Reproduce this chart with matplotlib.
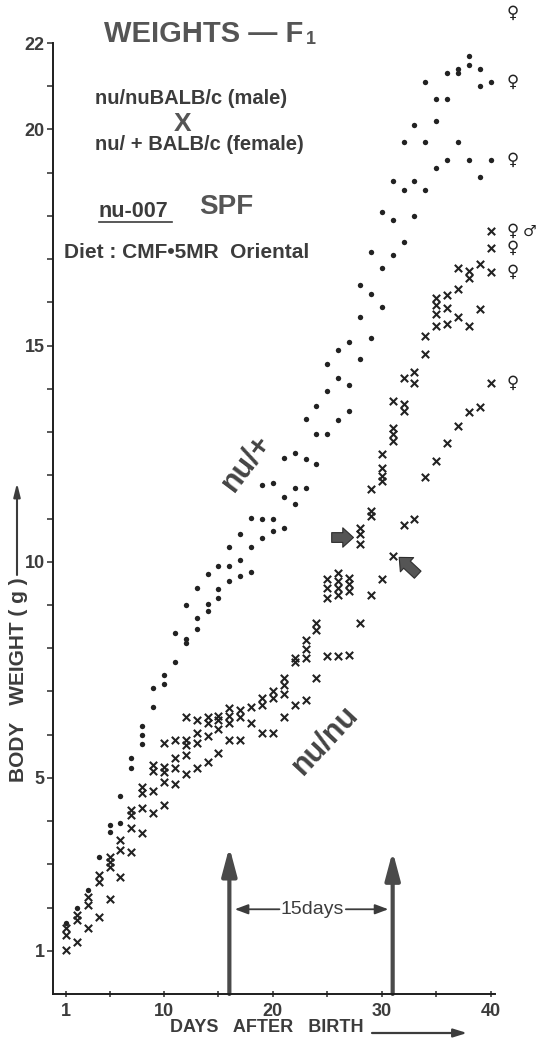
import numpy as np
import matplotlib.pyplot as plt

plt.rcParams['font.family'] = ['Liberation Sans', 'DejaVu Sans']

# Body weights (g) of each litter, one row per day after birth (day 1 .. 40)
het_weights = [
    [1.64], [2.0], [2.4], [3.17], [3.9, 3.75], [4.57, 3.95], [5.45, 5.22],
    [6.21, 6.0, 5.78], [7.09, 6.65], [7.37, 7.18], [8.34, 7.69],
    [9.0, 8.22, 8.11], [9.4, 8.7, 8.45], [9.72, 9.03, 8.87],
    [9.89, 9.36, 9.17], [10.33, 9.91, 9.56], [10.63, 10.03, 9.66],
    [11.02, 10.33, 9.77], [11.78, 11.0, 10.56], [11.83, 11.0, 10.7],
    [12.4, 11.5, 10.79], [12.52, 11.71, 11.34], [13.31, 12.38, 11.71],
    [13.6, 12.96, 12.27], [14.58, 13.95, 12.96], [14.9, 14.25, 13.28],
    [15.08, 14.09, 13.49], [16.4, 15.66, 14.69], [17.16, 16.2, 15.18],
    [18.1, 16.8, 15.9], [18.8, 17.9, 17.1], [19.7, 18.6, 17.4],
    [20.1, 18.8, 18.0], [21.1, 19.7, 18.6], [20.7, 20.2, 19.1],
    [21.3, 20.7, 19.3], [21.4, 21.3, 19.7], [21.7, 21.5, 19.3],
    [21.4, 21.0, 18.9], [22.7, 21.1, 19.3],
]
nude_weights = [
    [1.52, 1.36, 1.02], [1.82, 1.71, 1.2], [2.24, 2.06, 1.52],
    [2.75, 2.6, 1.78], [3.17, 3.05, 2.93, 2.2], [3.56, 3.33, 2.7],
    [4.25, 4.13, 3.83, 3.28], [4.78, 4.64, 4.3, 3.72],
    [5.29, 5.17, 4.69, 4.18], [5.8, 5.24, 5.13, 4.9, 4.37],
    [5.87, 5.47, 5.22, 4.85], [6.4, 5.87, 5.75, 5.52, 5.1],
    [6.33, 6.03, 5.8, 5.22], [6.4, 6.28, 5.98, 5.36],
    [6.44, 6.33, 6.14, 5.57], [6.61, 6.44, 6.26, 5.87],
    [6.56, 6.4, 5.87], [6.63, 6.26], [6.84, 6.68, 6.03],
    [7.02, 6.84, 6.03], [7.32, 7.14, 6.95, 6.4], [7.78, 7.67, 6.68],
    [8.18, 7.99, 7.78, 6.79], [8.59, 8.41, 7.32],
    [9.6, 9.4, 9.15, 7.83], [9.75, 9.56, 9.4, 9.24, 7.83],
    [9.63, 9.49, 9.33, 7.85], [10.79, 10.65, 10.42, 8.59],
    [11.69, 11.18, 11.06, 9.24], [12.5, 12.17, 11.99, 11.87, 9.6],
    [13.72, 13.1, 12.96, 12.8, 10.14], [14.25, 13.65, 13.49, 10.86],
    [14.38, 14.14, 10.99], [15.22, 14.81, 11.95],
    [16.11, 15.95, 15.73, 15.45, 12.34], [16.18, 15.88, 15.5, 12.74],
    [16.8, 16.32, 15.65, 13.14], [16.72, 16.57, 15.45, 13.47],
    [16.88, 15.85, 13.57], [17.65, 17.26, 16.71, 14.14],
]
# sex of the animals still on record at day 40
end_sex = [('♀', 22.7), ('♀', 21.1), ('♀', 19.3), ('♀', 17.65),
           ('♀', 17.26), ('♀', 16.71), ('♀', 14.14)]
male_mark = ('♂', 17.65)

day_ticks = [1, 10, 20, 30, 40]
day_minor = [5, 15, 25, 35]
weight_ticks = [1, 5, 10, 15, 20, 22]
transfer_days = [16, 31]

INK = '#222222'
TXT = '#3c3c3c'
W, H = 542, 1040


def flatten(rows):
    days = np.concatenate([[d + 1] * len(r) for d, r in enumerate(rows)])
    return days, np.concatenate(rows)


def fxy(x, y):
    # pixel position on the sheet -> figure fraction
    return x / W, 1 - y / H


fig = plt.figure(figsize=(W / 100, H / 100), dpi=100)
ax = fig.add_axes([53 / W, 46 / H, 442 / W, 951 / H])

hd, hw = flatten(het_weights)
nd, nw = flatten(nude_weights)
ax.scatter(hd, hw, s=15, marker='o', color=INK, linewidths=0, zorder=3)
ax.scatter(nd, nw, s=28, marker='x', color=INK, linewidths=1.5, zorder=3)

ax.set_xlim(-0.2, 40.4)
ax.set_ylim(0, 22)
for s in ['top', 'right']:
    ax.spines[s].set_visible(False)
for s in ['left', 'bottom']:
    ax.spines[s].set_linewidth(1.4)
    ax.spines[s].set_color('#1e1e1e')

ax.set_yticks(weight_ticks)
ax.set_yticks(np.arange(1, 23), minor=True)
ax.set_xticks(day_ticks)
ax.set_xticks(day_minor, minor=True)
ax.tick_params(axis='y', which='both', direction='out', length=4, width=1.2,
               pad=2, labelsize=13, colors=TXT)
ax.tick_params(axis='x', which='both', direction='inout', length=5, width=1.2,
               pad=4, labelsize=13, colors=TXT)
for lab in ax.get_xticklabels() + ax.get_yticklabels():
    lab.set_fontweight('bold')

# arrows marking the 15-day interval
for d, top in zip(transfer_days, [3.4, 3.3]):
    ax.annotate('', xy=(d, top), xytext=(d, 0),
                arrowprops=dict(arrowstyle='-|>,head_length=1.2,head_width=0.32',
                                mutation_scale=14, lw=3, color='#4a4a4a',
                                shrinkA=0, shrinkB=0), zorder=2)
ax.text(23.65, 1.96, '15days', ha='center', va='center', fontsize=14,
        color=TXT)
ax.annotate('', xy=(16.5, 1.96), xytext=(20.6, 1.96),
            arrowprops=dict(arrowstyle='-|>,head_length=0.8,head_width=0.3',
                            mutation_scale=10, lw=1.3, color=TXT,
                            shrinkA=0, shrinkB=0))
ax.annotate('', xy=(30.6, 1.96), xytext=(26.7, 1.96),
            arrowprops=dict(arrowstyle='-|>,head_length=0.8,head_width=0.3',
                            mutation_scale=10, lw=1.3, color=TXT,
                            shrinkA=0, shrinkB=0))

# block arrows pointing at the nu/nu groups
fat = dict(arrowstyle='simple,head_length=0.55,head_width=1.0,tail_width=0.5',
           mutation_scale=14, fc='#555555', ec='#2e2e2e', lw=0.8,
           shrinkA=0, shrinkB=0)
ax.annotate('', xy=(27.4, 10.56), xytext=(25.4, 10.56), arrowprops=fat)
ax.annotate('', xy=(31.6, 10.1), xytext=(33.3, 9.7), arrowprops=fat)

# sex of each animal at the end of the record
for sym, w in end_sex:
    ax.text(42.0, w, sym, ha='center', va='center', fontsize=12,
            fontweight='bold', color=INK, clip_on=False, family='DejaVu Sans')
ax.text(43.6, male_mark[1], male_mark[0], ha='center', va='center',
        fontsize=11, fontweight='bold', color=INK, clip_on=False,
        family='DejaVu Sans')

# group labels
ax.text(*fxy(246, 463), 'nu/+', transform=fig.transFigure, rotation=53,
        ha='center', va='center', fontsize=22, fontweight='bold',
        color='#444444')
ax.text(*fxy(325, 740), 'nu/nu', transform=fig.transFigure, rotation=47,
        ha='center', va='center', fontsize=22, fontweight='bold',
        color='#444444')

# heading block
fig.text(*fxy(104, 34), 'WEIGHTS — F', ha='left', va='center',
         fontsize=21, fontweight='bold', color='#555555')
fig.text(*fxy(306, 39), '1', ha='left', va='center',
         fontsize=13, fontweight='bold', color='#555555')
fig.text(*fxy(95, 98), 'nu/nuBALB/c (male)', ha='left', va='center',
         fontsize=14.5, fontweight='bold', color=TXT)
fig.text(*fxy(183, 124), 'X', ha='center', va='center', fontsize=19,
         fontweight='bold', color='#555555')
fig.text(*fxy(95, 145), 'nu/ + BALB/c (female)', ha='left', va='center',
         fontsize=14.5, fontweight='bold', color=TXT)
fig.text(*fxy(99, 212), 'nu-007', ha='left', va='center', fontsize=15.5,
         fontweight='bold', color=TXT)
fig.add_artist(plt.Line2D([99 / W, 172 / W], [1 - 222 / H, 1 - 222 / H],
                          color=TXT, lw=1.2))
fig.text(*fxy(199, 207), 'SPF', ha='left', va='center', fontsize=20,
         fontweight='bold', color='#555555')
fig.text(*fxy(64, 253), 'Diet : CMF•5MR  Oriental', ha='left', va='center',
         fontsize=15, fontweight='bold', color=TXT)

# axis titles
fig.text(*fxy(19, 680), 'BODY   WEIGHT ( g )', rotation=90, ha='center',
         va='center', fontsize=15, fontweight='bold', color=TXT)
ax.annotate('', xy=(17, H - 483), xycoords='figure pixels',
            xytext=(17, H - 575), textcoords='figure pixels',
            arrowprops=dict(arrowstyle='-|>,head_length=0.8,head_width=0.2',
                            mutation_scale=10, lw=1.5, color=TXT,
                            shrinkA=0, shrinkB=0))
fig.text(*fxy(267, 1028), 'DAYS   AFTER   BIRTH', ha='center', va='center',
         fontsize=13, fontweight='bold', color=TXT)
ax.annotate('', xy=(467, H - 1033), xycoords='figure pixels',
            xytext=(372, H - 1033), textcoords='figure pixels',
            arrowprops=dict(arrowstyle='-|>,head_length=0.8,head_width=0.25',
                            mutation_scale=10, lw=1.6, color=TXT,
                            shrinkA=0, shrinkB=0))

fig.savefig('out.png', dpi=100, facecolor='white')
